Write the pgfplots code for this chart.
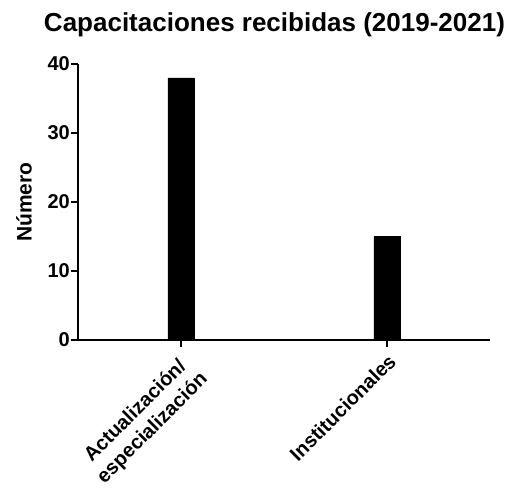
\documentclass[border=0pt]{standalone}
\usepackage{pgfplots}
\pgfplotsset{compat=1.18}
\usepackage{fontspec}
\setmainfont{Liberation Sans}
\begin{document}
\begin{tikzpicture}
\begin{axis}[
  name=ax,
  scale only axis,
  width=412pt, height=276pt,
  xmin=-0.5, xmax=1.5,
  ymin=0, ymax=40,
  axis lines=left,
  axis line style={-, line width=1.6pt},
  every tick/.style={line width=1.6pt, black},
  tick align=outside,
  major tick length=7pt,
  xtick={0,1},
  xticklabels={{Actualización/\\especialización},{Institucionales}},
  ytick={0,10,20,30,40},
  /pgf/number format/assume math mode=true,
  tick label style={font=\fontsize{20}{24}\selectfont\bfseries},
  y tick label style={inner sep=1pt},
  x tick label style={rotate=45, anchor=north east, align=center, inner sep=4pt},
  ylabel={Número},
  ylabel style={font=\fontsize{21}{24}\selectfont\bfseries, at={(axis description cs:-0.131,0.5)}, anchor=center},
  title={Capacitaciones recibidas (2019-2021)},
  title style={font=\fontsize{26}{30}\selectfont\bfseries, at={(axis description cs:0.5,1)}, anchor=south, yshift=18pt, xshift=-9.5pt},
  clip=false,
]
\addplot[ybar, bar width=26pt, fill=black, draw=black] coordinates {(0,38) (1,15)};
\end{axis}
\path (ax.south west) ++(-78pt,-146pt) coordinate (bl);
\path (ax.south west) ++(437pt,340pt) coordinate (tr);
\path (bl) rectangle (tr);
\end{tikzpicture}
\end{document}
